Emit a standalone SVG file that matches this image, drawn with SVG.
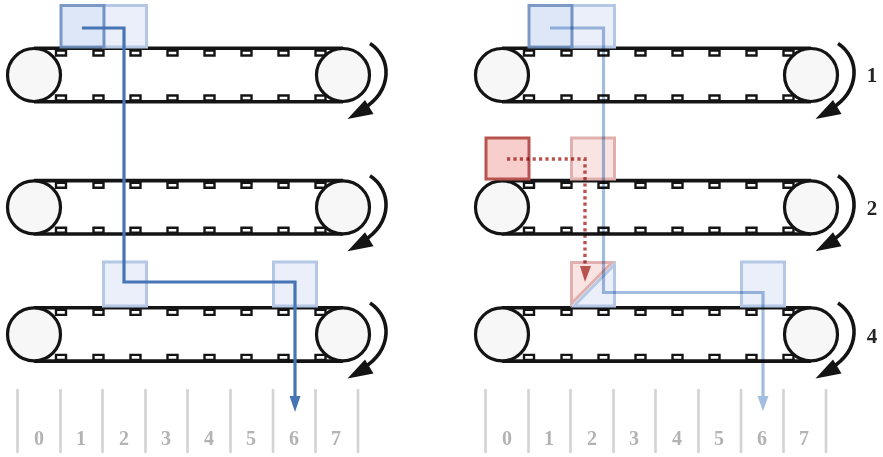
<svg xmlns="http://www.w3.org/2000/svg" xmlns:xlink="http://www.w3.org/1999/xlink" width="883" height="457" viewBox="0 0 883 457">
<style>
.belt{fill:none;stroke:#141414;stroke-width:3.6}
.cleat{fill:#fff;stroke:#141414;stroke-width:2.4}
.roller{fill:#f7f7f7;stroke:#141414;stroke-width:3.2}
.turn{fill:none;stroke:#141414;stroke-width:3.6}
.head{fill:#141414}
.tick{stroke:#d3d3d3;stroke-width:2.6;fill:none}
.num{font-family:"Liberation Serif",serif;font-weight:bold;font-size:20px;fill:#b3b3b3;text-anchor:middle}
.step{font-family:"Liberation Serif",serif;font-weight:bold;font-size:21px;fill:#262626;text-anchor:middle}
.b1{fill:#dae5f8;stroke:#6c8ebf;stroke-width:3}
.b2{fill:#eaeff9;stroke:#b4c8e6;stroke-width:3}
.r1{fill:#f8cecc;stroke:#b85450;stroke-width:3}
.r2{fill:#fae4e3;stroke:#e0b0ae;stroke-width:3}
.path1{fill:none;stroke:#4674b5;stroke-width:3.2}
.path2{fill:none;stroke:#a2bddf;stroke-width:3.2;mix-blend-mode:multiply}
.dot{fill:none;stroke:#b85450;stroke-width:3.4;stroke-dasharray:3.2 3.2;mix-blend-mode:multiply}
</style>
<defs>
<g id="conveyor">
<path class="cleat" d="M56 50.500H66V55.500H56ZM93.500 50.500H103.500V55.500H93.500ZM130.500 50.500H140.500V55.500H130.500ZM167.500 50.500H177.500V55.500H167.500ZM204.500 50.500H214.500V55.500H204.500ZM241.500 50.500H251.500V55.500H241.500ZM278.500 50.500H288.500V55.500H278.500ZM315.500 50.500H325.500V55.500H315.500Z"/>
<path class="cleat" d="M56 95.500H66V100.500H56ZM93.500 95.500H103.500V100.500H93.500ZM130.500 95.500H140.500V100.500H130.500ZM167.500 95.500H177.500V100.500H167.500ZM204.500 95.500H214.500V100.500H204.500ZM241.500 95.500H251.500V100.500H241.500ZM278.500 95.500H288.500V100.500H278.500ZM315.500 95.500H325.500V100.500H315.500Z"/>
<path class="belt" d="M34 48.300H343M34 101.700H343"/>
<circle class="roller" cx="34" cy="75" r="26.500"/>
<circle class="roller" cx="343" cy="75" r="26.500"/>
<path class="turn" d="M370 43.500C392 58 393 90 363 109"/>
<polygon class="head" points="347.500,119 365,100 373.500,114"/>
</g>
<g id="ruler">
<path class="tick" d="M17.500 389V453M60.500 389V453M102.500 389V453M145.500 389V453M187.500 389V453M230.500 389V453M273 389V453M315.500 389V453M358 389V453"/>
<text class="num" x="39" y="445">0</text><text class="num" x="81" y="445">1</text><text class="num" x="124" y="445">2</text><text class="num" x="166" y="445">3</text><text class="num" x="209" y="445">4</text><text class="num" x="251" y="445">5</text><text class="num" x="294" y="445">6</text><text class="num" x="336" y="445">7</text>
</g>
</defs>
<g id="left-conveyor-1"><use href="#conveyor"/></g>
<g id="left-conveyor-2"><use href="#conveyor" y="132.300"/></g>
<g id="left-conveyor-3"><use href="#conveyor" y="259.400"/></g>
<g id="right-conveyor-1"><use href="#conveyor" x="468"/><text class="step" x="872" y="82">1</text></g>
<g id="right-conveyor-2"><use href="#conveyor" x="468" y="132.300"/><text class="step" x="872" y="215">2</text></g>
<g id="right-conveyor-3"><use href="#conveyor" x="468" y="259.400"/><text class="step" x="872" y="342.500">4</text></g>
<g id="left-ruler"><use href="#ruler"/></g>
<g id="right-ruler"><use href="#ruler" x="468"/></g>
<g id="left-blocks">
<rect class="b2" x="103.500" y="5.500" width="43" height="41.500"/>
<rect class="b1" x="61" y="5.500" width="43" height="41.500" opacity=".9"/>
<rect class="b2" x="103.500" y="262" width="43" height="44"/>
<rect class="b2" x="273.500" y="262" width="43" height="44"/>
</g>
<g id="right-blocks">
<rect class="b2" x="571.500" y="5.500" width="43" height="41.500"/>
<rect class="b1" x="529" y="5.500" width="43" height="41.500" opacity=".9"/>
<rect class="r1" x="486" y="138" width="43" height="41"/>
<rect class="r2" x="571.500" y="138" width="43" height="41"/>
<polygon class="b2" points="614.500,264.500 614.500,306 574,306"/>
<polygon class="r2" points="571.500,262.500 612,262.500 571.500,303.500"/>
<rect class="b2" x="741.500" y="262" width="43" height="44"/>
</g>
<g id="connectors">
<path class="path1" d="M82 28H124V282H295V400"/>
<polygon fill="#4674b5" points="289.500,396 300.500,396 295,412"/>
<path class="path2" d="M550 28H603.500V292.500H763V400"/>
<polygon fill="#a2bddf" points="757.500,396 768.500,396 763,411"/>
<path class="dot" d="M507 159H585V264"/>
<polygon fill="#b85450" points="580,266 591,266 585,282"/>
</g>
</svg>
